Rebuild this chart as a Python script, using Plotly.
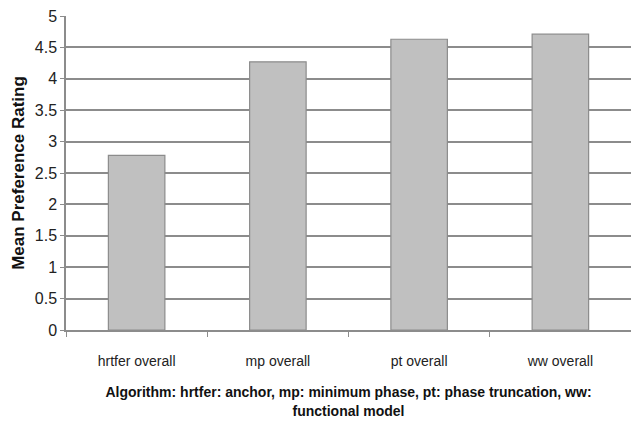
import plotly.graph_objects as go

categories = ["hrtfer overall", "mp overall", "pt overall", "ww overall"]
values = [2.78, 4.27, 4.63, 4.71]
y_ticks = [0, 0.5, 1, 1.5, 2, 2.5, 3, 3.5, 4, 4.5, 5]
y_tick_text = ["0", "0.5", "1", "1.5", "2", "2.5", "3", "3.5", "4", "4.5", "5"]

x_title = "Algorithm: hrtfer: anchor, mp: minimum phase, pt: phase truncation, ww:<br>functional model"
y_title = "Mean Preference Rating"

font_fam = "Liberation Sans, Arial, sans-serif"

fig = go.Figure(
    go.Bar(
        x=categories,
        y=values,
        marker=dict(color="#c0c0c0", line=dict(color="#8c8c8c", width=1.2)),
        width=0.4,
    )
)

fig.update_layout(
    width=631,
    height=424,
    margin=dict(l=66, r=0, t=16, b=94),
    paper_bgcolor="white",
    plot_bgcolor="white",
    showlegend=False,
    font=dict(family=font_fam, color="#222222", size=15),
)

fig.update_xaxes(
    tickson="boundaries",
    ticks="outside",
    ticklen=5,
    tickcolor="#8c8c8c",
    showline=True,
    linecolor="#8c8c8c",
    linewidth=1.5,
    showgrid=False,
    ticklabelstandoff=17,
    tickfont=dict(family=font_fam, size=14, color="#222222"),
    title=dict(
        text=x_title,
        font=dict(family=font_fam, size=14, color="#111111", weight="bold"),
        standoff=20,
    ),
)

fig.update_yaxes(
    range=[0, 5],
    tickvals=y_ticks,
    ticktext=y_tick_text,
    ticks="outside",
    ticklen=4,
    tickcolor="#8c8c8c",
    showline=True,
    linecolor="#8c8c8c",
    linewidth=1.5,
    showgrid=True,
    gridcolor="#8c8c8c",
    gridwidth=1.5,
    zeroline=False,
    tickfont=dict(family=font_fam, size=16, color="#222222"),
    title=dict(
        text=y_title,
        font=dict(family=font_fam, size=17, color="#111111", weight="bold"),
        standoff=6,
    ),
)

fig.write_html("out.html")
